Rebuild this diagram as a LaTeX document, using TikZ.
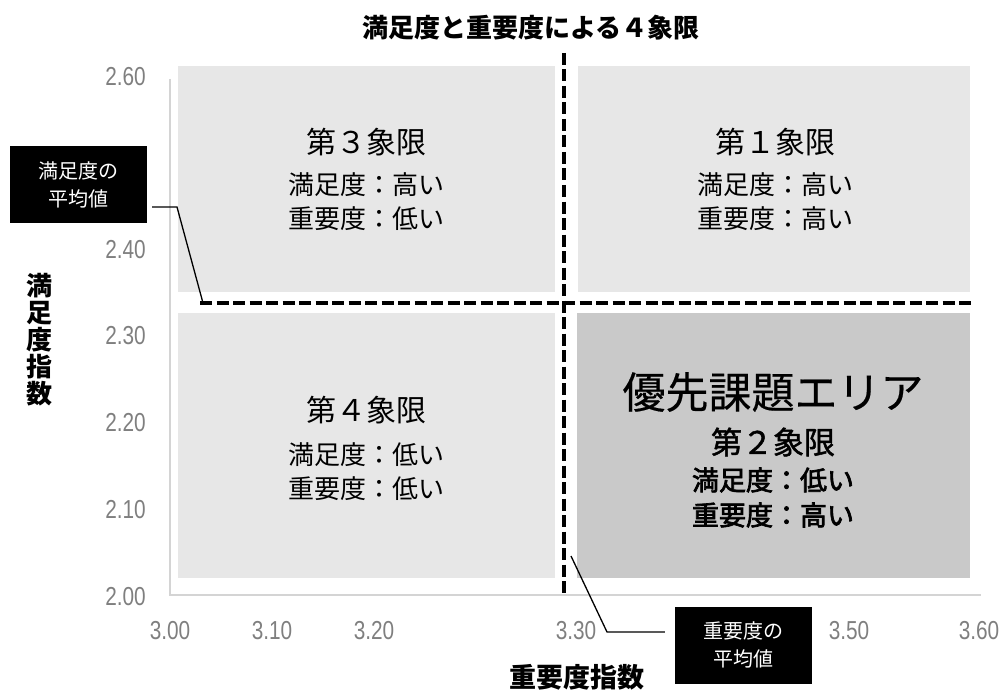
\documentclass[tikz,border=0pt]{standalone}
\usepackage{fontspec}
\setmainfont{Noto Sans CJK JP}
\newfontfamily\numfont[FakeStretch=0.8]{Liberation Sans}
\newfontfamily\jpmed[FakeBold=1.5]{Noto Sans CJK JP}
\newfontfamily\jpsemi[FakeBold=2.6]{Noto Sans CJK JP}
\newfontfamily\jplight[FakeBold=0.4]{Noto Sans CJK JP}
\definecolor{qlight}{HTML}{E7E7E7}
\definecolor{qdark}{HTML}{C9C9C9}
\definecolor{axisgray}{HTML}{D4D4D4}
\definecolor{numgray}{HTML}{7F7F7F}
\begin{document}
\begin{tikzpicture}[x=1pt,y=-1pt,
  quad/.style={fill=qlight, draw=none},
  quaddark/.style={fill=qdark, draw=none},
  axisline/.style={draw=axisgray, line width=2pt},
  meanline/.style={draw=black, line width=3.5pt, dash pattern=on 12pt off 4.5pt},
  callout/.style={draw=black, line width=1.3pt},
  numlbl/.style={inner sep=0pt, text=numgray, font=\numfont\fontsize{26}{26}\selectfont},
  labelbox/.style={fill=black, text=white, minimum width=137pt, minimum height=77pt, inner sep=0pt, align=center, font=\fontsize{20}{28}\selectfont},
  qhead/.style={inner sep=0pt, font=\fontsize{30}{30}\selectfont},
  qline/.style={inner sep=0pt, font=\fontsize{26}{26}\selectfont},
  axtitle/.style={inner sep=0pt, font=\bfseries\fontsize{26}{27}\selectfont}
]
\useasboundingbox (0,0) rectangle (1007,690);
% quadrants
\fill[quad] (178,66) rectangle (555,292);
\fill[quad] (578,66) rectangle (970,292);
\fill[quad] (178,313) rectangle (555,578);
\fill[quaddark] (577,313) rectangle (970,578);
% axes
\draw[axisline] (170,79) -- (170,595) -- (981,595);
% y labels
\node[numlbl, anchor=east] (y260) at (146,77) {2.60};
\node[numlbl, anchor=east] (y240) at (146,250) {2.40};
\node[numlbl, anchor=east] (y230) at (146,336) {2.30};
\node[numlbl, anchor=east] (y220) at (146,423) {2.20};
\node[numlbl, anchor=east] (y210) at (146,510) {2.10};
\node[numlbl, anchor=east] (y200) at (146,597) {2.00};
% x labels
\node[numlbl] (x300) at (170,631) {3.00};
\node[numlbl] (x310) at (272,631) {3.10};
\node[numlbl] (x320) at (374,631) {3.20};
\node[numlbl] (x330) at (576,631) {3.30};
\node[numlbl] (x350) at (849,631) {3.50};
\node[numlbl] (x360) at (979,631) {3.60};
% mean lines
\draw[meanline] (200,303) -- (975,303);
\draw[meanline] (564,53) -- (564,595);
% titles
\node[axtitle] (title) at (531,28) {満足度と重要度による４象限};
\node[axtitle, font=\bfseries\fontsize{27}{27}\selectfont] (xtitle) at (577,677) {重要度指数};
\node[axtitle, align=center] (ytitle) at (40,340) {満\\足\\度\\指\\数};
% quadrant 3
\node[qhead] (q3a) at (366,142) {第３象限};
\node[qline] (q3b) at (366,185) {満足度：高い};
\node[qline] (q3c) at (366,219) {重要度：低い};
% quadrant 1
\node[qhead] (q1a) at (775,142) {第１象限};
\node[qline] (q1b) at (775,185) {満足度：高い};
\node[qline] (q1c) at (775,219) {重要度：高い};
% quadrant 4
\node[qhead] (q4a) at (366,410) {第４象限};
\node[qline] (q4b) at (366,455) {満足度：低い};
\node[qline] (q4c) at (366,489) {重要度：低い};
% quadrant 2
\node[inner sep=0pt, font=\jplight\fontsize{43}{43}\selectfont] (q2t) at (773,392) {優先課題エリア};
\node[inner sep=0pt, font=\jpmed\fontsize{31}{31}\selectfont] (q2a) at (773,442) {第２象限};
\node[inner sep=0pt, font=\jpsemi\fontsize{27}{27}\selectfont] (q2b) at (773,480) {満足度：低い};
\node[inner sep=0pt, font=\jpsemi\fontsize{27}{27}\selectfont] (q2c) at (773,515) {重要度：高い};
% callout boxes
\node[labelbox] (lbox) at (78.5,184.5) {満足度の\\平均値};
\node[labelbox] (rbox) at (743.5,645) {重要度の\\平均値};
\coordinate (lstart) at ([xshift=5pt]lbox.east |- 0,207);
\coordinate (lbend) at (177,207);
\coordinate (lend) at (203,303);
\draw[callout] (lstart) -- (lbend) -- (lend);
\coordinate (rstart) at ([xshift=-10pt]rbox.west |- 0,632);
\coordinate (rbend) at (607,632);
\coordinate (rend) at (571,556);
\draw[callout] (rstart) -- (rbend) -- (rend);
\end{tikzpicture}
\end{document}
